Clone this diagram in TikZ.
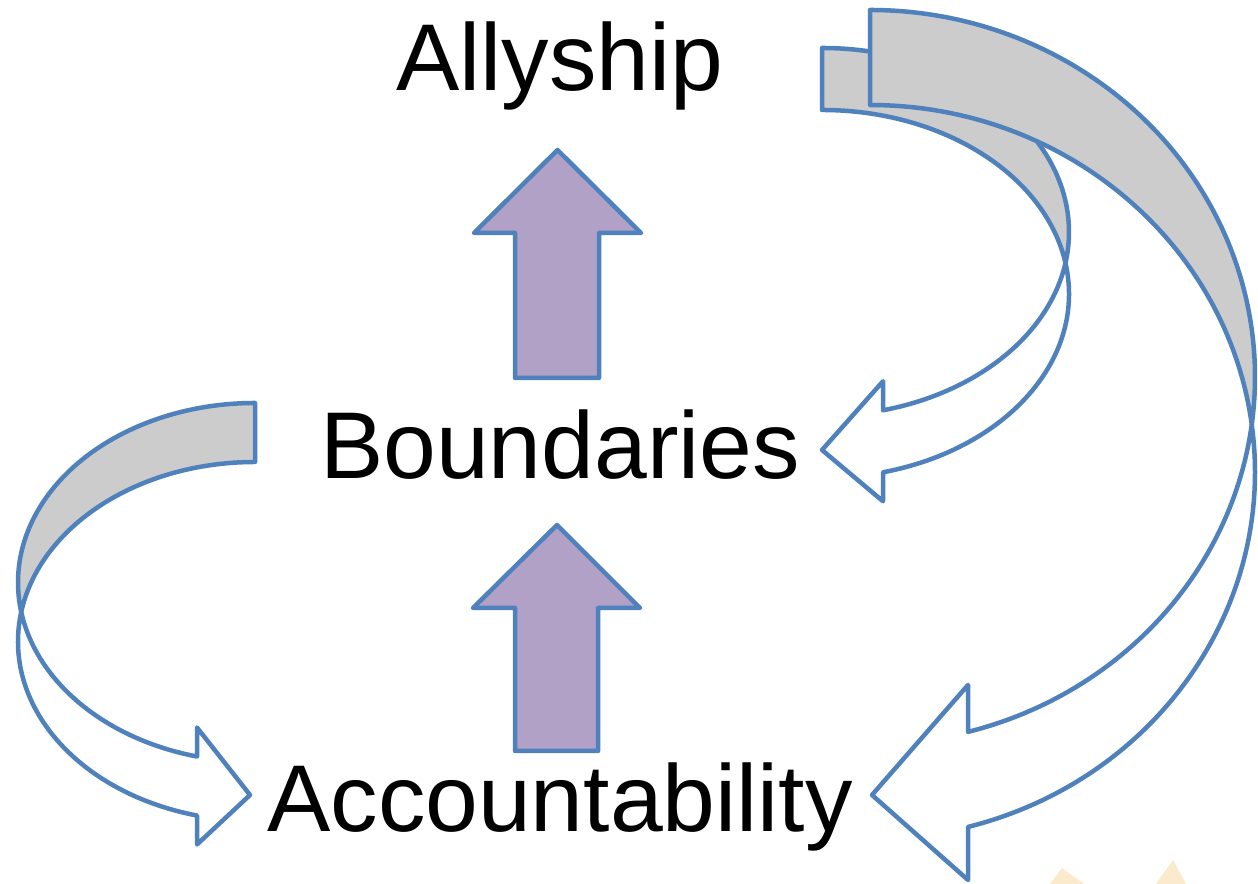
\documentclass[tikz,border=0pt]{standalone}
\usepackage{fontspec}
\setmainfont{Liberation Sans}
\definecolor{edgeblue}{RGB}{79,129,189}
\definecolor{backgrey}{RGB}{204,204,204}
\definecolor{uplilac}{RGB}{178,161,199}
\definecolor{glow}{RGB}{246,196,110}
\tikzset{
  band/.style={draw=edgeblue,line width=0.09cm,line join=round},
  back/.style={band,fill=backgrey},
  front/.style={band,fill=white},
  uparrow/.style={band,fill=uplilac},
  word/.style={anchor=base,inner sep=0pt,font=\fontsize{54}{60}\selectfont}
}
\begin{document}
\begin{tikzpicture}[x=0.02cm,y=0.02cm]
				\useasboundingbox (0,0) rectangle (1258,884);
				\fill[white] (0,0) rectangle (1258,884);
				% faint background patch, lower right
				\fill[glow,opacity=0.35] (1050,0)--(1062,16)--(1084,0)--cycle;
				\fill[glow,opacity=0.35] (1156,0)--(1173,24)--(1186,0)--cycle;
				% words
				\node[word] (allyship) at (560,793) {Allyship};
				\node[word] (boundaries) at (560,405) {Boundaries};
				\node[word] (accountability) at (560,52) {Accountability};
				% Allyship -> Boundaries (small curved arrow)
				\draw[back] (822,836) arc[start angle=90,end angle=-9.70,x radius=247,y radius=184]
					arc[start angle=9.70,end angle=90,x radius=247,y radius=184] -- cycle;
				\draw[front] (883,473.7) arc[start angle=-75.70,end angle=-9.70,x radius=247,y radius=184]
					arc[start angle=9.70,end angle=-75.70,x radius=247,y radius=184]
					-- (883,382.7) -- (822,434) -- (883,502.7) -- cycle;
				% Allyship -> Accountability (big curved arrow)
				\draw[back] (870,874) arc[start angle=90,end angle=-7.44,x radius=385,y radius=367]
					arc[start angle=7.44,end angle=90,x radius=385,y radius=367] -- cycle;
				\draw[front] (968,152.1) arc[start angle=-75.25,end angle=-7.44,x radius=385,y radius=367]
					arc[start angle=7.44,end angle=-75.25,x radius=385,y radius=367]
					-- (968,4) -- (872,89) -- (968,199) -- cycle;
				% Boundaries -> Accountability (left curved arrow)
				\draw[back] (255,481) arc[start angle=90,end angle=189.46,x radius=237,y radius=179.5]
					arc[start angle=170.54,end angle=90,x radius=237,y radius=179.5] -- cycle;
				\draw[front] (197,127.46) arc[start angle=255.83,end angle=189.46,x radius=237,y radius=179.5]
					arc[start angle=170.54,end angle=255.83,x radius=237,y radius=179.5]
					-- (197,39.5) -- (250,89) -- (197,156.5) -- cycle;
				% straight arrows up
				\draw[uparrow] (515,506)--(515,651)--(474,651)--(557.5,734)--(641,651)--(599,651)--(599,506)--cycle;
				\draw[uparrow] (515,133)--(515,276)--(473,276)--(557,359)--(640,276)--(598,276)--(598,133)--cycle;
\end{tikzpicture}
\end{document}
